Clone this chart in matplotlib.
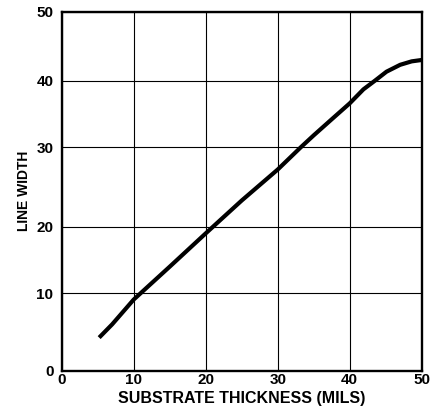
import numpy as np
import matplotlib
matplotlib.use("Agg")
import matplotlib.pyplot as plt

plt.rcParams['font.family'] = ['Liberation Sans', 'DejaVu Sans']
plt.rcParams['font.weight'] = 'bold'

# 曲线数据
thickness = [5.2, 7, 10, 15, 20, 25, 30, 33.2, 35, 37.7, 40, 41.9, 43.5, 45.1, 47.0, 48.6, 50.0]
line_width = [4.3, 6.0, 9.2, 14.0, 19.0, 23.3, 27.2, 30.0, 31.8, 34.4, 36.6, 38.7, 40.0, 41.3, 42.3, 42.8, 43.0]

x_ticks = [0, 10, 20, 30, 40, 50]
y_ticks = [0, 10, 20, 30, 40, 50]

# 原图网格线间距不均匀, 用分段线性刻度还原
y_grid_pos = [0, 10.81, 20.08, 31.13, 40.40, 50]
_yv = np.r_[-1e4, y_ticks, 1e4]
_yp = np.r_[-1e4, y_grid_pos, 1e4]


def y_forward(v):
    return np.interp(v, _yv, _yp)


def y_inverse(v):
    return np.interp(v, _yp, _yv)


fig = plt.figure(figsize=(4.38, 4.13), dpi=100)
ax = fig.add_axes([0.1409, 0.1017, 0.822, 0.870])

ax.set_yscale('function', functions=(y_forward, y_inverse))
ax.plot(thickness, line_width, color='black', linewidth=3.0,
        solid_capstyle='butt', solid_joinstyle='round', zorder=3)

ax.set_xlim(0, 50)
ax.set_ylim(0, 50)
ax.set_xticks(x_ticks)
ax.set_yticks(y_ticks)
ax.set_xticklabels([str(t) for t in x_ticks], fontsize=11, fontweight='bold')
ax.set_yticklabels([str(t) for t in y_ticks], fontsize=11, fontweight='bold')
ax.minorticks_off()
ax.tick_params(axis='x', length=0, pad=1.5)
ax.tick_params(axis='y', length=0, pad=6)

ax.grid(True, color='black', linewidth=0.8)
for s in ax.spines.values():
    s.set_linewidth(1.7)
    s.set_color('black')

ax.set_xlabel('SUBSTRATE THICKNESS (MILS)', fontsize=11.5, fontweight='bold', labelpad=2.5)
ax.set_ylabel('LINE WIDTH', fontsize=10, fontweight='bold', labelpad=4)

fig.savefig('out.png', dpi=100)
